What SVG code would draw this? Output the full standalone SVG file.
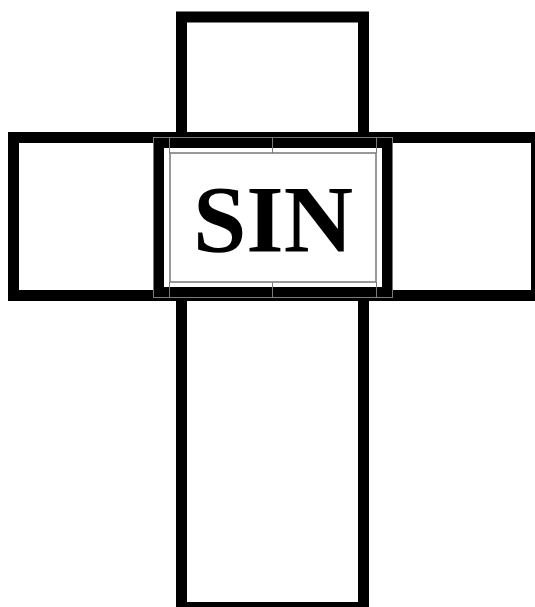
<svg xmlns="http://www.w3.org/2000/svg" width="535" height="607" viewBox="0 0 535 607">
  <style>
    .frame { fill: none; stroke: #000; stroke-width: 11; }
    .grid { stroke: #7a7a7a; stroke-width: 1; fill: none; }
    .label { font-family: "Liberation Serif", "Times New Roman", serif; font-weight: bold; font-size: 96px; fill: #000; }
  </style>
  <rect width="535" height="607" fill="#fff"/>
  <g id="connectors"></g>
  <g id="crossbar">
    <rect class="frame" x="13.5" y="137.5" width="523" height="158"/>
  </g>
  <g id="upright">
    <rect class="frame" x="181.5" y="17" width="182" height="590.5"/>
  </g>
  <g id="sin-box">
    <rect x="153" y="137" width="240" height="161" fill="#fff"/>
    <rect x="158.5" y="142.5" width="229" height="150" fill="none" stroke="#000" stroke-width="11"/>
    <path class="grid" d="M153 137.5H393M153 297.5H393M153.5 137V298M392.5 137V298M169.5 137V153M272.5 137V153M376.5 137V153M169.5 282V298M272.5 282V298M376.5 282V298"/>
    <rect x="170" y="153" width="206" height="129" fill="#fff" stroke="#777" stroke-width="1.5"/>
    <text class="label" x="273" y="252" text-anchor="middle">SIN</text>
  </g>
</svg>
